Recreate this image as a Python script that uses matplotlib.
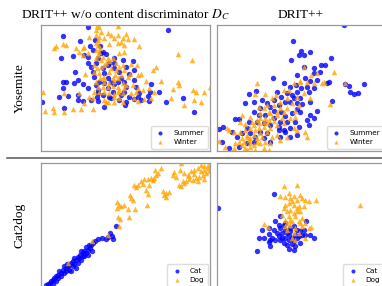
import matplotlib
matplotlib.use("Agg")
import matplotlib.pyplot as plt
import numpy as np

# ---- data (t-SNE style embedding coordinates, arbitrary units) ----
yos_a_summer = [(152,17),(390,25),(75,43),(128,57),(172,55),(158,72),(186,72),(197,90),(70,108),(105,103),
    (140,100),(150,105),(180,108),(205,97),(230,108),(150,125),(175,125),(215,125),(255,115),(285,118),
    (160,135),(195,140),(230,140),(265,135),(290,145),(113,150),(165,150),(200,155),(245,150),(275,158),
    (170,165),(210,170),(250,170),(120,175),(185,180),(220,180),(260,180),(290,175),(75,182),(85,180),
    (108,185),(135,188),(175,190),(200,185),(230,188),(240,182),(340,188),(150,200),(180,205),(210,200),
    (265,195),(295,195),(180,215),(195,220),(225,210),(260,210),(305,215),(338,212),(363,210),(75,200),
    (65,225),(90,222),(120,220),(178,225),(215,225),(250,220),(275,225),(300,225),(330,222),(120,235),
    (137,237),(182,238),(220,230),(245,235),(265,240),(290,232),(310,235),(335,237),(385,240),(437,230),
    (12,240),(78,258),(198,256),(262,250),(468,272),(160,235),(165,85),(190,95),(210,130),(230,125)]
yos_a_winter = [(178,12),(183,15),(240,12),(175,25),(190,30),(210,35),(220,40),(240,40),(265,38),(185,45),
    (200,48),(230,50),(255,50),(270,52),(290,52),(155,45),(180,55),(250,60),(55,73),(75,68),(85,70),(50,80),
    (115,78),(135,80),(140,75),(175,65),(215,68),(240,65),(260,70),(305,72),(420,97),(463,115),(125,92),
    (135,100),(150,95),(175,85),(185,90),(195,105),(210,110),(225,108),(245,95),(260,92),(175,110),(190,115),
    (215,118),(235,125),(255,130),(280,128),(298,130),(245,135),(355,135),(178,140),(190,135),(200,130),
    (220,140),(235,145),(260,145),(345,145),(310,157),(278,158),(143,157),(170,150),(185,155),(215,150),
    (232,160),(250,160),(188,170),(200,165),(225,170),(240,168),(270,165),(300,160),(325,178),(370,178),
    (420,180),(425,190),(200,180),(215,185),(230,178),(255,185),(265,190),(285,190),(180,195),(195,195),
    (210,195),(225,192),(240,195),(260,200),(245,205),(300,198),(315,205),(335,200),(350,210),(405,202),
    (465,204),(475,210),(500,210),(518,197),(15,210),(80,215),(170,210),(185,210),(200,210),(215,215),
    (230,218),(240,210),(255,215),(280,215),(295,210),(125,213),(155,225),(165,228),(200,235),(230,225),
    (245,228),(290,230),(320,232),(340,230),(400,228),(470,235),(490,240),(140,245),(205,242),(255,240),
    (300,238),(440,250),(45,258),(50,270),(22,268),(80,270),(105,262),(130,262),(165,262),(210,240),
    (230,240),(175,180),(195,170),(205,125),(170,130),(180,100),(182,70),(188,80),(176,40)]

yos_b_summer = [(390,10),(238,58),(262,87),(255,100),(270,100),(288,92),(232,115),(352,108),(322,130),
    (335,130),(272,135),(300,140),(250,160),(302,155),(320,150),(275,170),(290,178),(310,175),(345,180),
    (340,185),(177,168),(395,188),(450,187),(405,192),(410,212),(420,218),(433,215),(355,237),(210,185),
    (230,195),(248,190),(262,200),(280,195),(285,210),(300,200),(250,210),(235,220),(220,215),(190,210),
    (202,225),(213,240),(230,240),(250,245),(265,248),(290,240),(260,230),(240,230),(105,218),(128,208),
    (95,243),(122,240),(145,235),(180,235),(160,245),(140,260),(170,255),(195,250),(260,272),(290,280),
    (310,268),(215,282),(235,275),(250,262),(203,270),(180,268),(120,270),(135,280),(155,280),(65,292),
    (75,292),(105,300),(130,300),(180,290),(200,300),(220,300),(245,300),(280,295),(300,290),(285,310),
    (255,315),(230,320),(210,325),(195,315),(170,310),(150,305),(100,320),(85,335),(110,335),(140,330),
    (200,345),(215,330),(230,345),(15,322),(28,315),(25,362),(45,380),(75,375),(100,365),(120,360),
    (150,350),(170,360),(70,345),(55,330),(250,340),(160,335),(125,345),(195,325)]
yos_b_winter = [(272,135),(292,160),(310,155),(360,152),(325,185),(330,180),(300,185),(280,180),(258,178),
    (240,185),(226,205),(210,205),(188,220),(175,230),(155,218),(130,185),(125,218),(135,255),(150,260),
    (160,250),(180,250),(200,240),(220,230),(235,245),(250,225),(270,215),(290,230),(255,250),(200,260),
    (190,270),(170,275),(155,290),(140,290),(130,295),(110,285),(85,280),(80,300),(120,310),(135,305),
    (150,315),(165,295),(175,285),(190,280),(205,290),(230,290),(245,285),(210,305),(190,310),(170,320),
    (160,330),(140,335),(125,325),(110,320),(95,325),(80,330),(100,340),(110,350),(130,350),(145,345),
    (175,345),(190,340),(155,360),(140,365),(120,370),(110,375),(95,380),(90,360),(75,360),(85,350),
    (65,365),(60,378),(100,385),(125,385),(45,325),(40,320),(15,358),(60,330),(35,375),(95,308),(115,300),
    (140,275),(180,298),(210,270),(220,260),(245,268),(160,305),(105,355),(120,340),(135,320),(150,300),
    (165,270),(100,345),(85,370),(110,365),(130,360),(240,320),(275,330),(280,345),(250,325),(220,345),
    (200,355),(170,365),(395,185),(350,248),(258,182),(165,385),(150,380)]

cat_a_cat = [(235,205),(218,225),(222,235),(212,238),(205,242),(225,243),(192,240),(180,243),(172,248),
    (165,255),(160,262),(158,270),(150,275),(140,280),(135,285),(128,290),(135,295),(125,300),(120,298),
    (110,300),(115,305),(105,310),(100,315),(110,318),(95,320),(90,325),(85,330),(80,325),(75,335),
    (78,345),(70,345),(65,340),(60,350),(55,355),(60,360),(50,360),(45,365),(40,370),(38,375),(30,378),
    (25,380),(45,378),(55,370),(70,355),(85,340),(95,335),(105,325),(120,315),(130,305),(145,285),
    (150,290),(140,295),(130,280),(145,268),(155,262),(162,278),(115,330),(100,340),(88,318)]
cat_a_dog = [(238,133),(245,140),(260,140),(250,145),(238,150),(272,152),(292,152),(328,140),(240,178),
    (248,182),(275,178),(245,205),(210,232),(162,248),(92,315),(280,120),(285,125),(278,112),(295,88),
    (300,80),(315,78),(290,80),(310,68),(320,62),(330,62),(355,52),(350,60),(360,45),(352,35),(370,30),
    (375,100),(385,105),(380,112),(395,102),(330,108),(325,95),(335,80),(345,65),(385,118),(340,60),
    (405,52),(410,42),(415,58),(427,35),(430,15),(440,45),(450,50),(460,40),(470,35),(480,30),(490,22),
    (500,25),(510,30),(515,40),(505,45),(495,50),(485,58),(475,60),(465,65),(455,62),(445,70),(435,70),
    (430,85),(425,82),(438,75),(455,55),(470,48),(490,40),(500,35),(510,20),(480,68),(500,62)]

cat_b_cat = [(12,150),(182,107),(200,175),(185,190),(278,188),(145,215),(165,210),(180,215),(190,225),
    (200,210),(210,200),(215,215),(220,225),(230,210),(240,205),(250,215),(260,220),(270,215),(225,230),
    (235,240),(245,230),(255,235),(265,230),(275,230),(290,230),(302,240),(195,235),(205,240),(215,240),
    (175,240),(165,228),(135,240),(150,240),(170,245),(185,245),(200,245),(225,245),(240,250),(260,255),
    (235,258),(220,262),(210,255),(165,252),(170,265),(130,280),(225,272),(240,275),(245,265),(230,220),
    (215,195),(205,225),(195,200),(250,240)]
cat_b_dog = [(210,85),(250,80),(200,115),(215,118),(225,105),(230,120),(240,115),(250,125),(258,110),
    (265,120),(275,125),(285,130),(308,125),(440,140),(215,140),(225,135),(240,140),(255,145),(270,145),
    (210,150),(220,160),(230,155),(240,165),(250,160),(260,160),(205,170),(225,175),(245,175),(265,180),
    (215,185),(235,190),(255,190),(275,195),(150,197),(162,208),(230,200),(245,210),(265,205),(285,210),
    (293,208),(220,215),(240,225),(255,225),(275,240),(235,240),(245,245),(230,185),(250,150),(235,130),
    (220,195),(260,195),(215,205)]

col_titles = ["DRIT++ w/o content discriminator $D_C$", "DRIT++"]
row_titles = ["Yosemite", "Cat2dog"]
yos_labels = ["Summer", "Winter"]
cat_labels = ["Cat", "Dog"]

# ---- figure ----
plt.rcParams['mathtext.fontset'] = 'stix'
W, H = 382, 286
fig = plt.figure(figsize=(W/100, H/100), dpi=100)

def ax_at(x0, y0, w, h):
    return fig.add_axes([x0/W, 1 - (y0+h)/H, w/W, h/H])

BLUE = '#0000ff'
ORANGE = '#ffa500'

def panel(x0, y0, a, b, labels, ylim):
    ax = ax_at(x0, y0, 169, 126)
    a = np.array(a); b = np.array(b)
    ax.scatter(a[:,0], a[:,1], s=15, marker='o', color=BLUE, alpha=0.8, linewidths=0, label=labels[0])
    ax.scatter(b[:,0], b[:,1], s=16, marker='^', color=ORANGE, alpha=0.8, linewidths=0, label=labels[1])
    ax.set_xlim(10, 517)
    ax.set_ylim(*ylim)
    ax.set_xticks([]); ax.set_yticks([])
    for sp in ax.spines.values():
        sp.set_color('#999999'); sp.set_linewidth(0.9)
    ax.legend(loc='lower right', fontsize=5.2, markerscale=0.75, borderaxespad=0.3,
              handlelength=1.6, handletextpad=1.0, borderpad=0.5, labelspacing=0.5,
              framealpha=1, edgecolor='#dddddd', fancybox=True)
    return ax

panel(41, 25, yos_a_summer, yos_a_winter, yos_labels, (388, 10))
panel(217, 25, yos_b_summer, yos_b_winter, yos_labels, (388, 10))
panel(41, 163, cat_a_cat, cat_a_dog, cat_labels, (393, 15))
panel(217, 163, cat_b_cat, cat_b_dog, cat_labels, (393, 15))

serif = ['Liberation Serif', 'DejaVu Serif']
fig.text(125.5/W, 1 - 15/H, col_titles[0], ha='center', va='center', fontsize=9.6, family=serif)
fig.text(301/W, 1 - 15/H, col_titles[1], ha='center', va='center', fontsize=9.6, family=serif)
fig.text(20/W, 1 - 88/H, row_titles[0], ha='center', va='center', rotation=90, fontsize=9.6, family=serif)
fig.text(20/W, 1 - 225/H, row_titles[1], ha='center', va='center', rotation=90, fontsize=9.6, family=serif)

fig.add_artist(plt.Line2D([7/W, 1], [1 - 158/H, 1 - 158/H], color='#555555', linewidth=1.1))

fig.savefig('out.png', dpi=100)
